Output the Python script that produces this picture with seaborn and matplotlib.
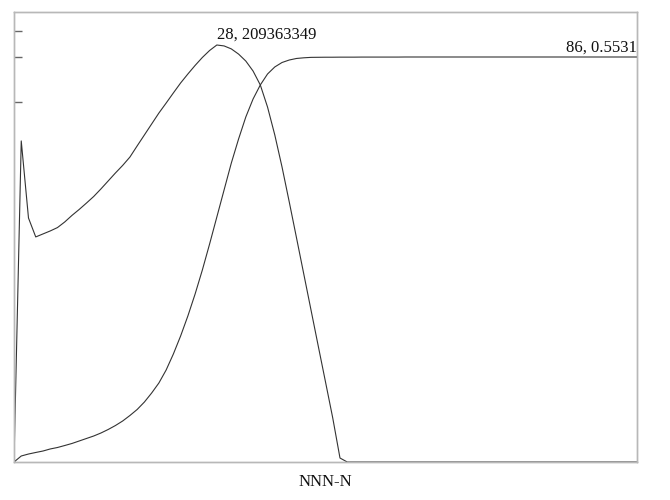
import numpy as np
import pandas as pd
import matplotlib
matplotlib.use("Agg")
import matplotlib.pyplot as plt
import seaborn as sns

# ---- data ----
x_vals = list(range(0, 87))

bell_millions = [
    0.0, 161.2, 122.5, 113.0, 114.5, 116.0, 117.7, 120.5, 123.8, 126.8,
    130.0, 133.3, 137.1, 141.1, 145.1, 148.9, 153.1, 158.7, 164.2, 169.7,
    175.2, 180.2, 185.3, 190.3, 194.8, 199.1, 203.1, 206.6, 209.363349, 208.9,
    207.4, 204.8, 201.3, 196.3, 189.3, 178.2, 164.2, 148.1, 130.5, 112.5,
    94.4, 76.3, 58.2, 40.2, 22.1, 2.0, 0.0, 0.0, 0.0, 0.0,
    0.0, 0.0, 0.0, 0.0, 0.0, 0.0, 0.0, 0.0, 0.0, 0.0,
    0.0, 0.0, 0.0, 0.0, 0.0, 0.0, 0.0, 0.0, 0.0, 0.0,
    0.0, 0.0, 0.0, 0.0, 0.0, 0.0, 0.0, 0.0, 0.0, 0.0,
    0.0, 0.0, 0.0, 0.0, 0.0, 0.0, 0.0,
]
bell_values = [v * 1e6 for v in bell_millions]

sigmoid_values = [
    0.0, 0.0082, 0.0109, 0.0130, 0.0150, 0.0178, 0.0198, 0.0225, 0.0253, 0.0287,
    0.0321, 0.0355, 0.0396, 0.0444, 0.0498, 0.0560, 0.0635, 0.0717, 0.0819, 0.0942,
    0.1079, 0.1256, 0.1475, 0.1721, 0.1994, 0.2294, 0.2622, 0.2977, 0.3346, 0.3715,
    0.4083, 0.4411, 0.4712, 0.4957, 0.5149, 0.5299, 0.5395, 0.5456, 0.5490, 0.5511,
    0.5520, 0.5526, 0.5527, 0.5528, 0.5528, 0.5529, 0.5529, 0.5529, 0.5530, 0.5530,
    0.5530, 0.5530, 0.5530, 0.5530, 0.5531, 0.5531, 0.5531, 0.5531, 0.5531, 0.5531,
    0.5531, 0.5531, 0.5531, 0.5531, 0.5531, 0.5531, 0.5531, 0.5531, 0.5531, 0.5531,
    0.5531, 0.5531, 0.5531, 0.5531, 0.5531, 0.5531, 0.5531, 0.5531, 0.5531, 0.5531,
    0.5531, 0.5531, 0.5531, 0.5531, 0.5531, 0.5531, 0.5531,
]

peak_label = "28, 209363349"
end_label = "86, 0.5531"
x_label = "NNN-N"

df = pd.DataFrame({"x": x_vals, "bell": bell_values, "sig": sigmoid_values})

# ---- style ----
sns.set_style("white")
plt.rcParams["font.family"] = ["Liberation Serif", "DejaVu Serif"]

fig = plt.figure(figsize=(6.7, 5.0), dpi=100)
ax = fig.add_axes([14 / 670, 38 / 500, 623 / 670, 450 / 500])
ax2 = ax.twinx()

line_color = "#333333"
sns.lineplot(data=df, x="x", y="bell", ax=ax, color=line_color, linewidth=0.8)
sns.lineplot(data=df, x="x", y="sig", ax=ax2, color=line_color, linewidth=0.8)

x_max = 86
ax.set_xlim(0, x_max)
bell_top = 209363349 / (417 / 450)
sig_top = 0.5531 / (405 / 450)
ax.set_ylim(0, bell_top)
ax2.set_ylim(0, sig_top)

# ticks (no labels)
ax.set_xticks([x_max * k / 5 for k in range(1, 5)])
ax.set_xticklabels([])
ytick_fracs = [(462 - 31) / 450, (462 - 57) / 450, (462 - 102) / 450]
ax.set_yticks([f * bell_top for f in ytick_fracs])
ax.set_yticklabels([])
ax2.set_yticks([])
ax.tick_params(axis="both", direction="in", length=6, width=1.0, colors="#666666")
dark = "#555555"
light = "#b0b0b0"
for i, t in enumerate(ax.xaxis.get_major_ticks()):
    t.tick1line.set_color(dark if i % 2 == 0 else light)

ax.set_xlabel(x_label, fontsize=12, color="#111111", labelpad=5)
ax.set_ylabel("")
ax2.set_ylabel("")

for a in (ax, ax2):
    for s in a.spines.values():
        s.set_color("#b8b8b8")
        s.set_linewidth(1.0)

ax.annotate(peak_label, xy=(28, 209363349), xytext=(0, 1.5), textcoords="offset points",
            ha="left", va="bottom", fontsize=12, color="#111111")
ax2.annotate(end_label, xy=(86, 0.5531), xytext=(0, 1.0), textcoords="offset points",
             ha="right", va="bottom", fontsize=12, color="#111111")

fig.savefig("out.png", dpi=100, facecolor="white")
